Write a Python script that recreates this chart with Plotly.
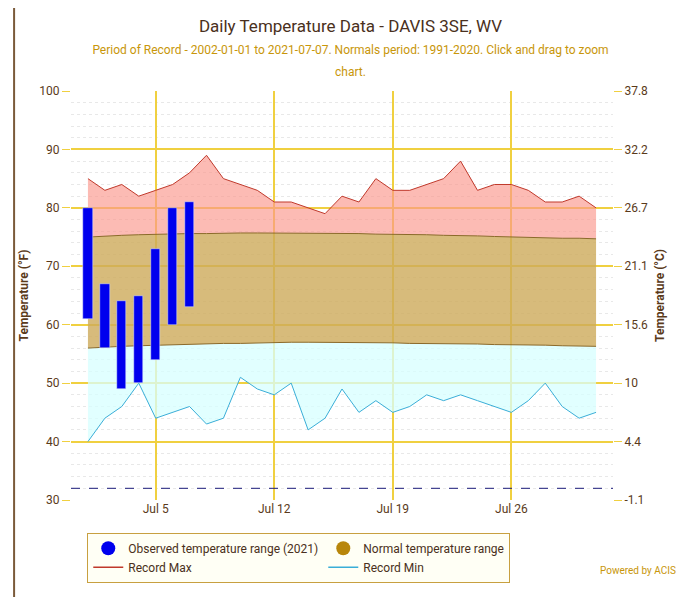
import plotly.graph_objects as go
import pandas as pd

dates = pd.date_range("2021-07-01", "2021-07-31").strftime("%Y-%m-%d").tolist()
rec_max = [85,83,84,82,83,84,86,89,85,84,83,81,81,80,79,82,81,85,83,83,84,85,88,83,84,84,83,81,81,82,80]
rec_min = [40,44,46,50,44,45,46,43,44,51,49,48,50,42,44,49,45,47,45,46,48,47,48,47,46,45,47,50,46,44,45]
norm_hi = [75.0,75.2,75.3,75.4,75.5,75.5,75.6,75.6,75.7,75.7,75.7,75.7,75.7,75.7,75.7,75.6,75.6,75.5,75.5,75.4,75.4,75.3,75.3,75.2,75.1,75.0,75.0,74.9,74.8,74.8,74.7]
norm_lo = [56.0,56.2,56.3,56.4,56.5,56.6,56.7,56.7,56.8,56.8,56.9,56.9,57.0,57.0,57.0,57.0,56.9,56.9,56.9,56.8,56.8,56.8,56.7,56.7,56.6,56.6,56.5,56.5,56.4,56.3,56.3]
obs_dates = dates[:7]
obs_lo = [61,56,49,50,54,60,63]
obs_hi = [80,67,64,65,73,80,81]
yticks = [30,40,50,60,70,80,90,100]
c_labels = ["-1.1","4.4","10","15.6","21.1","26.7","32.2","37.8"]

fig = go.Figure()
fig.add_trace(go.Scatter(x=dates, y=norm_hi, mode="lines", line=dict(width=0), showlegend=False, hoverinfo="skip"))
fig.add_trace(go.Scatter(x=dates, y=rec_max, mode="lines", line=dict(color="#c0392b", width=1), fill="tonexty",
                         fillcolor="rgba(250,150,140,0.65)", showlegend=False))
fig.add_trace(go.Scatter(x=dates, y=rec_min, mode="lines", line=dict(color="#3aaed8", width=1), showlegend=False))
fig.add_trace(go.Scatter(x=dates, y=norm_lo, mode="lines", line=dict(width=0), fill="tonexty",
                         fillcolor="rgba(215,255,255,0.75)", showlegend=False, hoverinfo="skip"))
fig.add_trace(go.Scatter(x=dates, y=norm_lo, mode="lines", line=dict(color="#8b6a2a", width=1), showlegend=False))
fig.add_trace(go.Scatter(x=dates, y=norm_hi, mode="lines", line=dict(color="#8b6a2a", width=1), fill="tonexty",
                         fillcolor="rgba(205,170,90,0.8)", showlegend=False))
fig.add_trace(go.Bar(x=obs_dates, y=[h-l for h, l in zip(obs_hi, obs_lo)], base=obs_lo, marker_color="#0000ee",
                     width=0.55*86400000, showlegend=False, yaxis="y3"))
fig.add_trace(go.Scatter(x=[dates[0]], y=[None], yaxis="y2", showlegend=False))

fig.add_trace(go.Scatter(x=[None], y=[None], mode="markers", marker=dict(color="#0000ee", size=14),
                         name="Observed temperature range (2021)"))
fig.add_trace(go.Scatter(x=[None], y=[None], mode="markers", marker=dict(color="#b8860b", size=14),
                         name="Normal temperature range"))
fig.add_trace(go.Scatter(x=[None], y=[None], mode="lines", line=dict(color="#c0392b", width=1.5), name="Record Max"))
fig.add_trace(go.Scatter(x=[None], y=[None], mode="lines", line=dict(color="#3aaed8", width=1.5), name="Record Min"))

fig.add_shape(type="line", xref="paper", x0=0, x1=1, y0=32, y1=32, line=dict(color="#1a1a7a", width=1, dash="dash"))

fig.update_layout(
    width=685, height=597, paper_bgcolor="white", plot_bgcolor="white",
    margin=dict(l=63, r=80, t=83, b=105, autoexpand=False),
    font=dict(family="Roboto", color="#5a3a1a", size=12),
    title=dict(text="Daily Temperature Data - DAVIS 3SE, WV<br><span style='font-size:12px;color:#c8960a'>Period of Record - 2002-01-01 to 2021-07-07. Normals period: 1991-2020. Click and drag to zoom<br>chart.</span>",
               x=0.5, xanchor="center", y=0.96, yanchor="top", font=dict(size=17, color="#4a3020")),
    xaxis=dict(range=["2021-06-30", "2021-08-01"], tickvals=["2021-07-05","2021-07-12","2021-07-19","2021-07-26"],
               ticktext=["Jul 5","Jul 12","Jul 19","Jul 26"], showgrid=True, gridcolor="#f0d040", gridwidth=1.5,
               zeroline=False, showline=False, tickfont=dict(color="#5a3a1a"), minor=dict(showgrid=False, ticks="")),
    yaxis=dict(range=[30, 100], tickvals=yticks, showgrid=True, gridcolor="#f0d040", gridwidth=1.5, zeroline=False,
               title=dict(text="<b>Temperature (°F)</b>", font=dict(size=12), standoff=8), ticks="outside", tickcolor="#f0d040", ticklen=8,
               minor=dict(dtick=2, showgrid=True, gridcolor="#e8e8e8", gridwidth=1, griddash="dot")),
    yaxis2=dict(range=[30, 100], overlaying="y", side="right", tickvals=yticks, ticktext=c_labels, showgrid=False,
                zeroline=False, title=dict(text="<b>Temperature (°C)</b>", font=dict(size=12), standoff=8), ticks="outside",
                tickcolor="#f0d040", ticklen=8),
    yaxis3=dict(range=[30, 100], overlaying="y", visible=False, showgrid=False),
    legend=dict(orientation="h", x=0.03, xanchor="left", y=-0.08, yanchor="top", bgcolor="#fffff5",
                bordercolor="#c8a040", borderwidth=1, font=dict(size=12, color="#4a3020"), traceorder="normal"),
    bargap=0,
)
fig.add_annotation(text="Powered by ACIS", xref="paper", yref="paper", x=1.12, y=-0.19, xanchor="right",
                   showarrow=False, font=dict(size=10, color="#c8960a"))
fig.add_shape(type="line", xref="paper", yref="paper", x0=-0.105, x1=-0.105, y0=-0.3, y1=1.3, line=dict(color="#7a5a3a", width=2))
fig.write_html("out.html")
